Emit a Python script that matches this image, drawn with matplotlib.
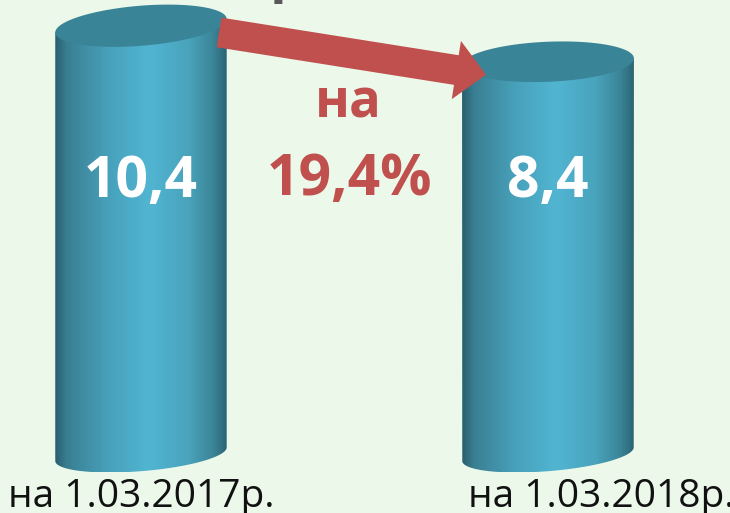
import numpy as np
import matplotlib.pyplot as plt
from matplotlib.patches import Polygon
from matplotlib.colors import LinearSegmentedColormap

# chart data
dates = ['на 1.03.2017р.', 'на 1.03.2018р.']
values = [10.4, 8.4]
value_labels = ['10,4', '8,4']
change_text = ['на', '19,4%']

BG = '#ebf8ea'
RED = '#c0504d'
TOP = '#3a8497'
cyl_cmap = LinearSegmentedColormap.from_list('cyl', [
    (0.0, '#295f6e'), (0.07, '#3a7f92'), (0.3, '#47a0ba'),
    (0.55, '#51b5d2'), (0.78, '#49a3bb'), (0.92, '#3b8598'), (1.0, '#2b6574')])

plt.rcParams['font.family'] = ['Open Sans', 'DejaVu Sans']

W, H = 730, 513
fig = plt.figure(figsize=(W / 100, H / 100), dpi=100, facecolor=BG)
ax = fig.add_axes([0, 0, 1, 1])
ax.set_facecolor(BG)
ax.set_axis_off()
ax.set_xlim(-0.3464, 1.4472)
ax.set_ylim(-16.67, 11.83)
base = -13.4          # 3d cylinders stand on a floor below zero
half_w = 0.2113
tilts = [4.7, 2.4]    # perspective tilt of the top ellipses (deg)


def to_px(x, y):
    dx, dy = ax.transData.transform((x, y))
    return np.array([dx, H - dy])


def to_data(pts):
    pts = np.asarray(pts, float)
    disp = np.column_stack([pts[:, 0], H - pts[:, 1]])
    return ax.transData.inverted().transform(disp)


def ellipse(c, a, b, tilt, t):
    phi = -np.radians(tilt)
    x = c[0] + a * np.cos(t) * np.cos(phi) - b * np.sin(t) * np.sin(phi)
    y = c[1] + a * np.cos(t) * np.sin(phi) + b * np.sin(t) * np.cos(phi)
    return np.column_stack([x, y])


def t_extreme(a, b, tilt):
    phi = -np.radians(tilt)
    return np.arctan(-b * np.tan(phi) / a)


for i, v in enumerate(values):
    top_c = to_px(i, v)
    bot_c = to_px(i, base)
    a = to_px(i + half_w, v)[0] - top_c[0]
    bt, bb = 20, 17
    tt = t_extreme(a, bt, tilts[i])
    tb = t_extreme(a, bb, 4.7)
    top_r = ellipse(top_c, a, bt, tilts[i], np.array([tt]))
    top_l = ellipse(top_c, a, bt, tilts[i], np.array([tt + np.pi]))
    arc = ellipse(bot_c, a, bb, 4.7, np.linspace(tb, tb + np.pi, 80))
    body = np.vstack([top_r, arc, top_l])
    body_d = to_data(body)
    poly = Polygon(body_d, closed=True, facecolor='none', edgecolor='none')
    ax.add_patch(poly)
    x0, x1 = body_d[:, 0].min(), body_d[:, 0].max()
    y0, y1 = body_d[:, 1].min(), body_d[:, 1].max()
    grad = np.linspace(0, 1, 256).reshape(1, -1)
    im = ax.imshow(grad, extent=(x0, x1, y0, y1), aspect='auto', cmap=cyl_cmap,
                   origin='lower', interpolation='bilinear', zorder=2)
    im.set_clip_path(poly)
    lid = ellipse(top_c, a, bt, tilts[i], np.linspace(0, 2 * np.pi, 120))
    ax.add_patch(Polygon(to_data(lid), closed=True, facecolor=TOP,
                         edgecolor='none', zorder=3))

    ax.text(i, 0.9, value_labels[i], color='white', fontsize=41,
            fontweight='bold', ha='center', va='baseline', zorder=5)

ax.set_xlim(-0.3464, 1.4472)
ax.set_ylim(-16.67, 11.83)

# arrow from first cylinder to the second
S = to_px(0, values[0]) + np.array([78, 6.7])
T = to_px(1, values[1]) + np.array([-62, 13])
u = (T - S) / np.linalg.norm(T - S)
n = np.array([-u[1], u[0]])
w, hw, hl = 15, 29.5, 30
B = T - u * hl
arrow = [S + n * w, B + n * w, B + n * hw, T, B - n * hw, B - n * w, S - n * w]
ax.add_patch(Polygon(to_data(arrow), closed=True, facecolor=RED,
                     edgecolor='none', zorder=4))

ax.text(0.5086, 5.33, change_text[0], color=RED, fontsize=38,
        fontweight='bold', ha='center', va='baseline', zorder=5)
ax.text(0.512, 1.0, change_text[1], color=RED, fontsize=41,
        fontweight='bold', ha='center', va='baseline', zorder=5)

label_x = [0.0, 1.13]
for i, d in enumerate(dates):
    ax.text(label_x[i], -16.33, d, color='#111111', fontsize=28,
            ha='center', va='baseline', zorder=5)

# tail of the cut-off heading above the chart
fig.text(270 / W, 1 + 9 / H, 'р', color='#595959', fontsize=40,
         fontweight='bold', ha='left', va='baseline')

fig.savefig('out.png', dpi=100, facecolor=BG)
